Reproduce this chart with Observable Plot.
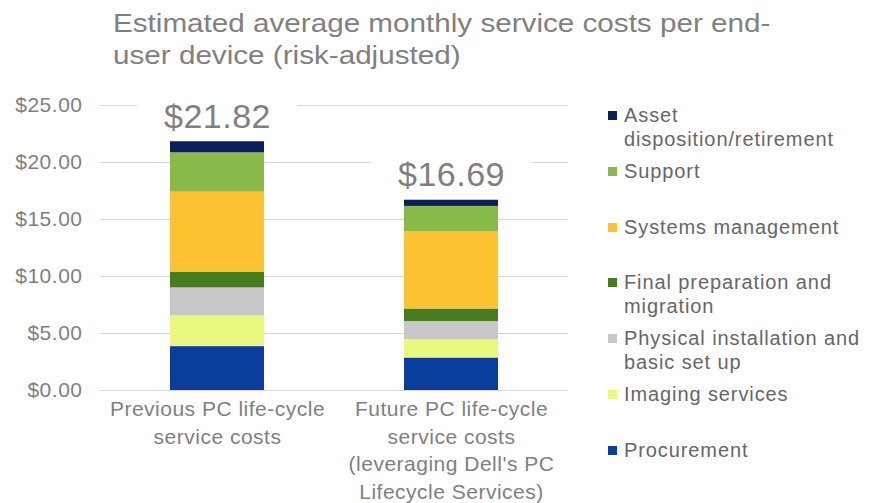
<!DOCTYPE html>
<html>
<head>
<meta charset="utf-8">
<script src="https://cdn.jsdelivr.net/npm/d3@7"></script>
<script src="https://cdn.jsdelivr.net/npm/@observablehq/plot@0.6"></script>
<style>
  html, body { margin: 0; padding: 0; background: #fff; }
  #wrap { position: relative; width: 874px; height: 503px; overflow: hidden; font-family: "Liberation Sans", Arial, sans-serif; }
  #title { position: absolute; left: 113px; top: 7px; width: 700px; font-size: 26px; line-height: 32px; color: #808080; z-index: 2; transform: scaleX(1.14); transform-origin: 0 0; white-space: nowrap; }
  #legend { position: absolute; left: 607px; top: 103px; z-index: 2; }
  .item { position: relative; height: 55.8px; padding-left: 17px; font-size: 20px; line-height: 24px; color: #666; letter-spacing: 0.9px; white-space: nowrap; }
  .sw { position: absolute; left: 1px; top: 8px; width: 9px; height: 9px; }
</style>
</head>
<body>
<div id="wrap">
  <div id="title">Estimated average monthly service costs per end-<br>user device (risk-adjusted)</div>
  <div id="legend"></div>
</div>
<script>
const categories = [
  "Previous PC life-cycle\nservice costs",
  "Future PC life-cycle\nservice costs\n(leveraging Dell's PC\nLifecycle Services)"
];
const series = [
  "Procurement",
  "Imaging services",
  "Physical installation and basic set up",
  "Final preparation and migration",
  "Systems management",
  "Support",
  "Asset disposition/retirement"
];
const legendLabels = [
  "Procurement",
  "Imaging services",
  "Physical installation and<br>basic set up",
  "Final preparation and<br>migration",
  "Systems management",
  "Support",
  "Asset<br>disposition/retirement"
];
const colors = ["#0a3d9e", "#eaf97e", "#c8c8c8", "#467e1e", "#fdc332", "#88b94a", "#0c1f5a"];
const previousValues = [3.85, 2.70, 2.45, 1.35, 7.05, 3.45, 0.97];
const futureValues   = [2.85, 1.60, 1.60, 1.10, 6.80, 2.20, 0.54];
const yTicks = [0, 5, 10, 15, 20, 25];

const table = [];
[previousValues, futureValues].forEach((vals, i) => {
  vals.forEach((v, j) => table.push({category: categories[i], series: series[j], value: v}));
});
const totals = [previousValues, futureValues].map((vals, i) => ({
  category: categories[i],
  total: d3.sum(vals)
}));

const money = d3.format("$.2f");

const chart = Plot.plot({
  width: 874,
  height: 503,
  marginTop: 105,
  marginBottom: 113,
  marginLeft: 100,
  marginRight: 306,
  style: {fontFamily: "Liberation Sans, Arial, sans-serif", fontSize: "21px", color: "#7f7f7f", background: "transparent", letterSpacing: "0.5px"},
  x: {domain: categories, paddingInner: 0.6, paddingOuter: 0.3, axis: null},
  y: {domain: [0, 25], axis: null},
  color: {domain: series, range: colors},
  marks: [
    Plot.gridY(yTicks, {stroke: "#d9d9d9", strokeOpacity: 1, strokeWidth: 1.2}),
    Plot.axisY(yTicks, {tickFormat: money, tickSize: 0, tickPadding: 18, fontSize: 21, fill: "#7f7f7f", label: null}),
    Plot.rectY(totals, {x: "category", y1: d => d.total + 0.6, y2: d => d.total + 4.2, fill: "white", insetLeft: -33, insetRight: -33}),
    Plot.barY(table, Plot.stackY({order: series}, {x: "category", y: "value", fill: "series"})),
    Plot.text(totals, {x: "category", y: "total", text: d => money(d.total), dy: -25, fontSize: 34, fill: "#7f7f7f"}),
    Plot.text(categories, {x: d => d, frameAnchor: "bottom", lineAnchor: "top", dy: 6, lineHeight: 1.31, fontSize: 21, fill: "#7f7f7f"})
  ]
});
chart.style.position = "absolute";
chart.style.left = "0px";
chart.style.top = "0px";
document.getElementById("wrap").appendChild(chart);

const legend = document.getElementById("legend");
for (let j = series.length - 1; j >= 0; j--) {
  const item = document.createElement("div");
  item.className = "item";
  item.innerHTML = `<span class="sw" style="background:${colors[j]}"></span>${legendLabels[j]}`;
  legend.appendChild(item);
}
</script>
</body>
</html>
